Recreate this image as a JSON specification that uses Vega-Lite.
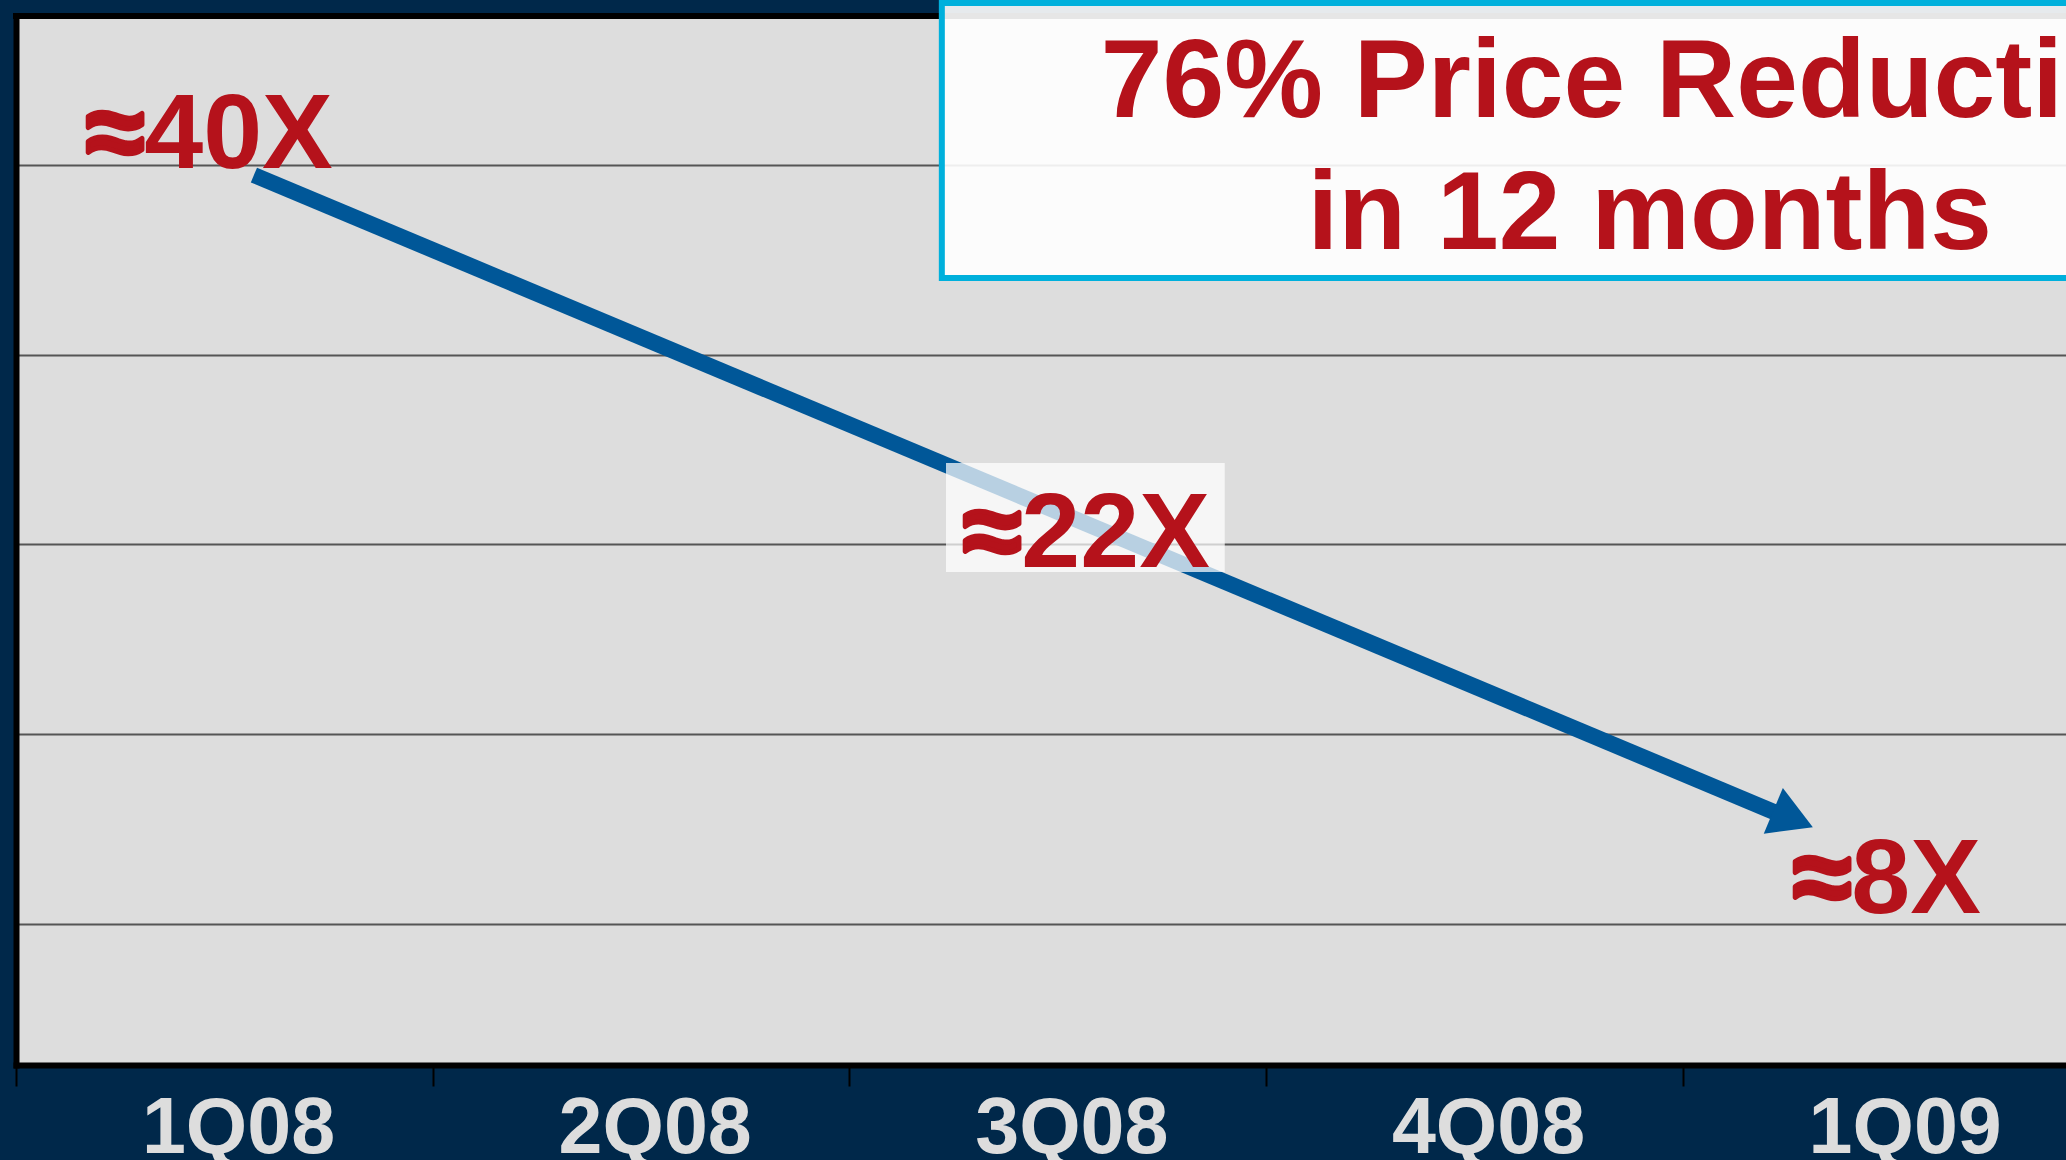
{
  "$schema": "https://vega.github.io/schema/vega-lite/v6.json",
  "width": 2050,
  "height": 1049,
  "autosize": {"type": "none"},
  "padding": {"left": 16, "top": 16, "right": 0, "bottom": 95},
  "background": "#00284a",
  "config": {
    "view": {"fill": "#dddddd", "stroke": null},
    "font": "Liberation Sans"
  },
  "datasets": {
    "arrow": [{"x": 0.571, "y": 4.947, "x2": 4.22, "y2": 1.59}],
    "arrowhead": [{"x": 4.265, "y": 1.553}],
    "border": [{"y": 5.785}],
    "labelbox": [{"x": 2.232, "x2": 2.901, "y": 3.429, "y2": 2.855}],
    "titlebox": [{"x": 2.222, "x2": 5.0, "y": 5.853, "y2": 4.404}],
    "values": [
      {"label": "≈40X", "x": 0.168, "y": 4.984},
      {"label": "≈22X", "x": 2.273, "y": 2.881},
      {"label": "≈8X", "x": 4.265, "y": 1.058}
    ],
    "title": [
      {"line": "76% Price Reduction", "x": 3.921, "y": 5.253},
      {"line": "in 12 months", "x": 3.921, "y": 4.557}
    ]
  },
  "layer": [
    {
      "data": {"name": "arrow"},
      "mark": {"type": "rule", "color": "#005798", "strokeWidth": 16, "strokeCap": "butt"},
      "encoding": {
        "x": {
          "field": "x", "type": "quantitative",
          "scale": {"domain": [0, 4.92], "nice": false, "zero": false},
          "axis": {
            "values": [0, 1, 2, 3, 4],
            "labelExpr": "['1Q08','2Q08','3Q08','4Q08','1Q09'][datum.value]",
            "labelOffset": 222,
            "labelFont": "Liberation Sans",
            "labelFontWeight": "bold",
            "labelFontSize": 79,
            "labelColor": "#dddddd",
            "labelBaseline": "alphabetic",
            "labelAlign": "center",
            "labelPadding": 66,
            "labelLimit": 0,
            "labelFlush": false,
            "labelOverlap": false,
            "labelBound": false,
            "ticks": true,
            "tickSize": 21,
            "tickColor": "#000000",
            "tickWidth": 2,
            "domain": true,
            "domainColor": "#000000",
            "domainWidth": 6,
            "domainCap": "square",
            "grid": false,
            "title": null
          }
        },
        "x2": {"field": "x2"},
        "y": {
          "field": "y", "type": "quantitative",
          "scale": {"domain": [0.257, 5.785], "nice": false, "zero": false},
          "axis": {
            "values": [1, 2, 3, 4, 5],
            "grid": true,
            "gridColor": "#555555",
            "gridWidth": 2,
            "ticks": false,
            "labels": false,
            "domain": true,
            "domainColor": "#000000",
            "domainWidth": 6,
            "domainCap": "square",
            "title": null
          }
        },
        "y2": {"field": "y2"}
      }
    },
    {
      "data": {"name": "border"},
      "mark": {"type": "rule", "color": "#000000", "strokeWidth": 6, "strokeCap": "square"},
      "encoding": {"y": {"field": "y", "type": "quantitative"}}
    },
    {
      "data": {"name": "arrowhead"},
      "mark": {"type": "point", "shape": "triangle-right", "angle": 22.7, "size": 2450, "filled": true, "color": "#005798", "opacity": 1, "strokeWidth": 0},
      "encoding": {
        "x": {"field": "x", "type": "quantitative"},
        "y": {"field": "y", "type": "quantitative"}
      }
    },
    {
      "data": {"name": "labelbox"},
      "mark": {"type": "rect", "fill": "#ffffff", "fillOpacity": 0.72},
      "encoding": {
        "x": {"field": "x", "type": "quantitative"},
        "x2": {"field": "x2"},
        "y": {"field": "y", "type": "quantitative"},
        "y2": {"field": "y2"}
      }
    },
    {
      "data": {"name": "titlebox"},
      "mark": {"type": "rect", "fill": "#ffffff", "fillOpacity": 0.9, "stroke": "#00b0dc", "strokeWidth": 6},
      "encoding": {
        "x": {"field": "x", "type": "quantitative"},
        "x2": {"field": "x2"},
        "y": {"field": "y", "type": "quantitative"},
        "y2": {"field": "y2"}
      }
    },
    {
      "data": {"name": "values"},
      "mark": {"type": "text", "font": "Liberation Sans", "fontWeight": "bold", "fontSize": 106, "color": "#b5121b", "align": "left", "baseline": "alphabetic"},
      "encoding": {
        "x": {"field": "x", "type": "quantitative"},
        "y": {"field": "y", "type": "quantitative"},
        "text": {"field": "label"}
      }
    },
    {
      "data": {"name": "values"},
      "mark": {"type": "text", "font": "Liberation Sans", "fontWeight": "bold", "fontSize": 106, "fill": "#b5121b", "stroke": "#b5121b", "strokeWidth": 5, "strokeJoin": "round", "align": "left", "baseline": "alphabetic"},
      "encoding": {
        "x": {"field": "x", "type": "quantitative"},
        "y": {"field": "y", "type": "quantitative"},
        "text": {"value": "≈"}
      }
    },
    {
      "data": {"name": "title"},
      "mark": {"type": "text", "font": "Liberation Sans", "fontWeight": "bold", "fontSize": 111, "color": "#b5121b", "align": "center", "baseline": "alphabetic"},
      "encoding": {
        "x": {"field": "x", "type": "quantitative"},
        "y": {"field": "y", "type": "quantitative"},
        "text": {"field": "line"}
      }
    }
  ]
}
